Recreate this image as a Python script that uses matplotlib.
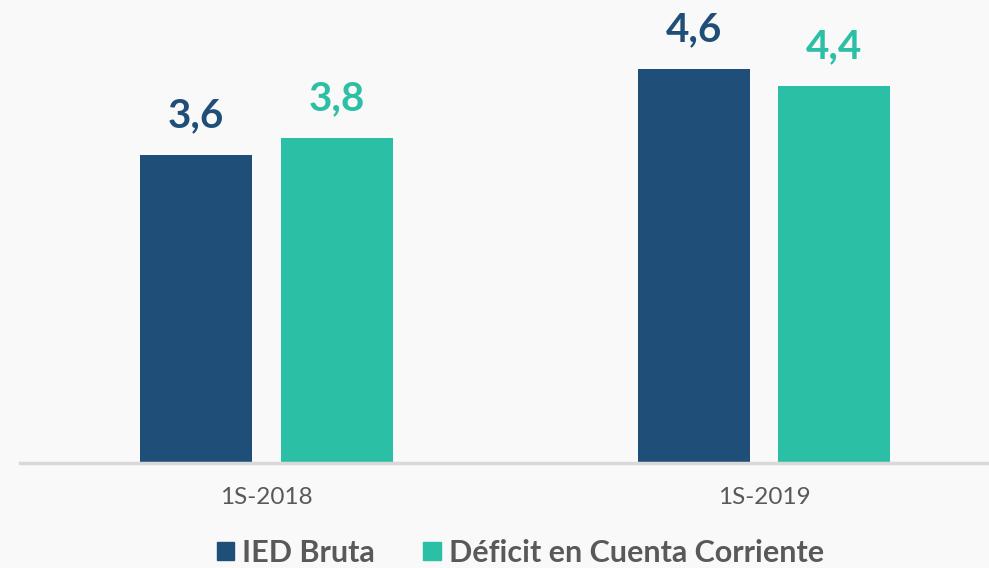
import numpy as np
import matplotlib.pyplot as plt
from matplotlib.patches import Patch

# data
periods = ['1S-2018', '1S-2019']
ied_bruta = [3.6, 4.6]
deficit_cc = [3.8, 4.4]
series_names = ['IED Bruta', 'Déficit en Cuenta Corriente']
colors = ['#1F4E79', '#2BBFA5']

bg = '#F9F9F9'
grey = '#595959'

fig = plt.figure(figsize=(9.89, 5.68), dpi=100, facecolor=bg)
ax = fig.add_axes([20/989, 105/568, 969/989, 463/568], facecolor=bg)

x = np.arange(len(periods))
w = 0.225
off = 0.141
b1 = ax.bar(x - off, ied_bruta, w, color=colors[0])
b2 = ax.bar(x + off, deficit_cc, w, color=colors[1])

for bars, vals, c in [(b1, ied_bruta, colors[0]), (b2, deficit_cc, colors[1])]:
    for r, v in zip(bars, vals):
        ax.annotate(('%.1f' % v).replace('.', ','),
                    (r.get_x() + r.get_width()/2, v),
                    xytext=(0, 15), textcoords='offset points',
                    ha='center', va='bottom', fontsize=29,
                    fontweight='bold', color=c, family='Lato')

ax.set_xlim(-0.4955, 1.452)
ax.set_ylim(0, 5.41)
ax.set_yticks([])
for s in ['top', 'right', 'left']:
    ax.spines[s].set_visible(False)
ax.spines['bottom'].set_color('#D9D9D9')
ax.spines['bottom'].set_linewidth(2.5)
ax.set_xticks(x, periods)
ax.tick_params(axis='x', length=0, pad=17, labelsize=17.5, labelcolor=grey)
for t in ax.get_xticklabels():
    t.set_family('Lato')

handles = [Patch(color=c) for c in colors]
fig.legend(handles, series_names, loc='center', bbox_to_anchor=(0.526, 0.027),
           ncol=2, frameon=False, handlelength=0.56, handleheight=0.56,
           handletextpad=0.26, columnspacing=1.6, borderpad=0,
           prop={'family': 'Lato', 'weight': 'bold', 'size': 22},
           labelcolor=grey)

plt.savefig('out.png', dpi=100, facecolor=bg)
